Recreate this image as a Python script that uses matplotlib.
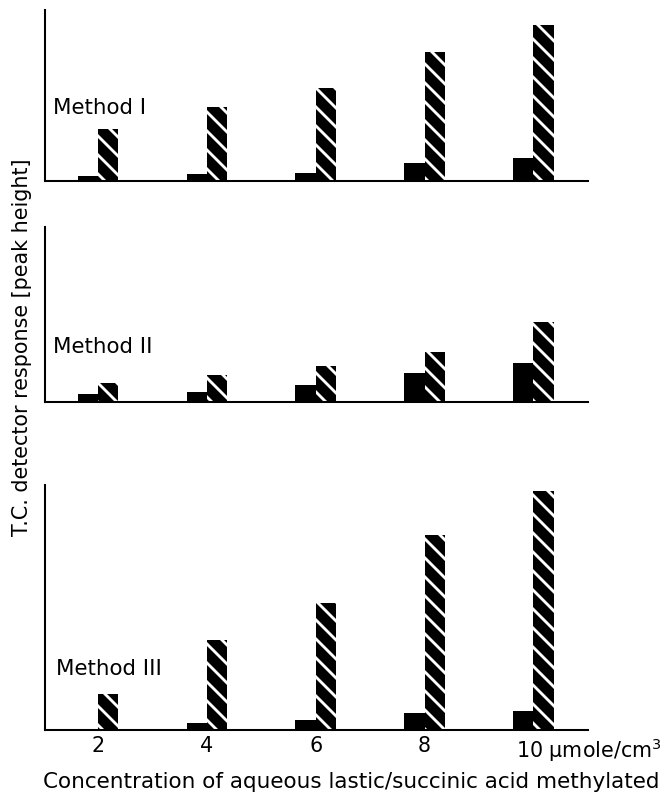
import numpy as np
import matplotlib
matplotlib.use("Agg")
import matplotlib.pyplot as plt
from matplotlib.transforms import ScaledTranslation

# Data (peak heights, arbitrary units)
concentrations = [2, 4, 6, 8, 10]
tick_labels = ['2', '4', '6', '8', '10 \u03bcmole/cm$^3$']
method_names = ['Method I', 'Method II', 'Method III']

black_1 = [5, 7, 8, 18, 23]
hatch_1 = [52, 74, 93, 129, 156]
black_2 = [8, 10, 17, 29, 39]
hatch_2 = [19, 27, 36, 50, 80]
black_3 = [0, 7, 10, 17, 19]
hatch_3 = [36, 90, 127, 195, 239]

panel_top = [171, 175, 245]

DPI = 114
plt.rcParams['hatch.linewidth'] = 1.8
fig = plt.figure(figsize=(662 / DPI, 794 / DPI), dpi=DPI)

# axes boxes in figure fractions: left, bottom, width, height
boxes = [
    [0.068, 0.772, 0.820, 0.2154],
    [0.068, 0.4937, 0.820, 0.2204],
    [0.068, 0.0806, 0.820, 0.3086],
]
label_pos = [(0.015, 0.427), (0.015, 0.314), (0.02, 0.249)]

data = [(black_1, hatch_1), (black_2, hatch_2), (black_3, hatch_3)]
x = np.array(concentrations, dtype=float)
w = 0.37

axes = []
for i, (blk, hat) in enumerate(data):
    ax = fig.add_axes(boxes[i])
    ax.bar(x - w / 2, blk, width=w, color='black', linewidth=0)
    ax.bar(x + w / 2, hat, width=w, color='black', edgecolor='white',
           linewidth=0, hatch='\\\\')
    ax.set_xlim(1.03, 11.0)
    ax.set_ylim(0, panel_top[i])
    for s in ['top', 'right']:
        ax.spines[s].set_visible(False)
    for s in ['left', 'bottom']:
        ax.spines[s].set_linewidth(1.3)
    ax.set_yticks([])
    ax.tick_params(length=0)
    ax.text(label_pos[i][0], label_pos[i][1], method_names[i],
            transform=ax.transAxes, fontsize=13.5, va='center', ha='left')
    axes.append(ax)

for ax in axes[:2]:
    ax.set_xticks([])

ax3 = axes[2]
ax3.set_xticks(concentrations)
ax3.set_xticklabels(tick_labels, fontsize=13)
ax3.tick_params(axis='x', pad=4)
last = ax3.get_xticklabels()[-1]
last.set_horizontalalignment('left')
last.set_transform(last.get_transform() + ScaledTranslation(-17 / DPI, 0, fig.dpi_scale_trans))

ax3.set_xlabel('Concentration of aqueous lastic/succinic acid methylated', fontsize=13.6)
ax3.xaxis.set_label_coords(0.565, -0.172)
ax3.xaxis.label.set_verticalalignment('top')

fig.text(22 / 662, 1 - 347 / 794, 'T.C. detector response [peak height]',
         rotation=90, ha='center', va='center', fontsize=13)

fig.savefig('out.png', dpi=DPI)
